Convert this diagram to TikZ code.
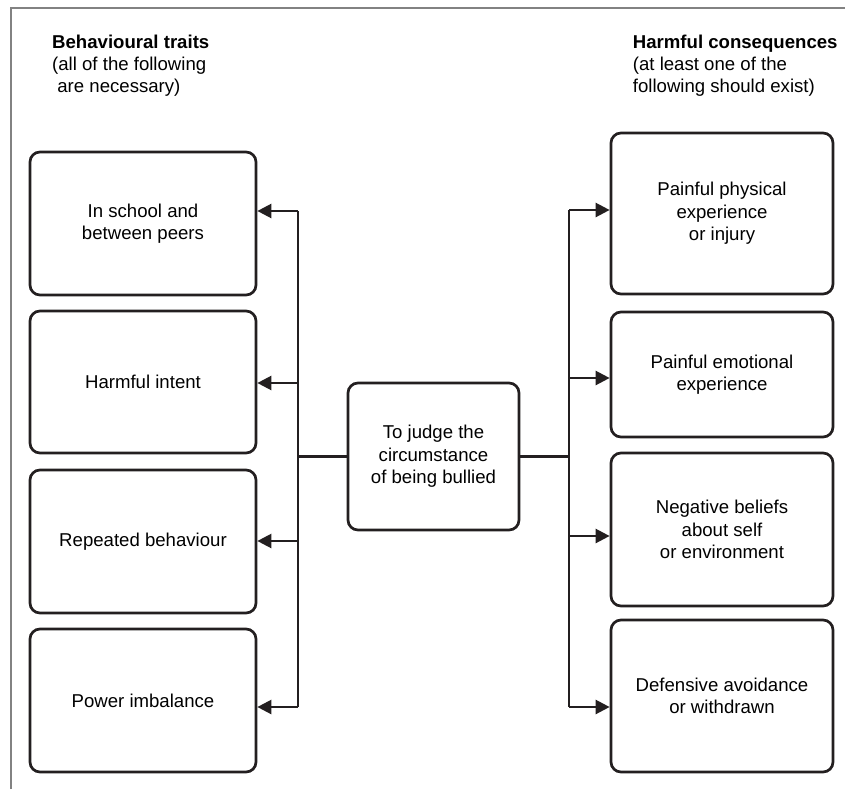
\documentclass[tikz,border=0pt]{standalone}
\usepackage{fontspec}
\setmainfont{Liberation Sans}
\usetikzlibrary{arrows.meta}
\definecolor{dark}{RGB}{35,31,32}
\definecolor{framegray}{RGB}{130,130,130}
\newcommand\dgtxt{\fontsize{18.6}{22.4}\selectfont}
\begin{document}
\begin{tikzpicture}[x=1pt,y=-1pt,
  box/.style={draw=dark, line width=2.7pt, rounded corners=10pt, align=center, font=\dgtxt, inner sep=0pt, text=black},
  conn/.style={draw=dark, line width=2.4pt},
  arr/.style={conn, -{Triangle[length=14pt,width=14pt]}},
  titletext/.style={align=left, font=\dgtxt, inner sep=0pt, anchor=north west, text=black},
]
\useasboundingbox (0,0) rectangle (845,789);
% frame
\draw[framegray, line width=1.5pt] (11,789) -- (11,8) -- (845,8);

% titles
\node[titletext] (ltitle) at (52,34.5) {\textbf{Behavioural traits}\\(all of the following\\\hspace*{5.2pt}are necessary)};
\node[titletext] (rtitle) at (632.7,34.5) {\textbf{Harmful consequences}\\(at least one of the\\following should exist)};

% left boxes
\node[box, minimum width=226pt, minimum height=143pt] (L1) at (143,223.5) {In school and\\between peers};
\node[box, minimum width=226pt, minimum height=142pt] (L2) at (143,382) {Harmful intent};
\node[box, minimum width=226pt, minimum height=143pt] (L3) at (143,541.5) {Repeated behaviour};
\node[box, minimum width=226pt, minimum height=143pt] (L4) at (143,700.5) {Power imbalance};

% center box
\node[box, minimum width=171pt, minimum height=147pt] (C) at (433.5,456.5) {To judge the\\circumstance\\of being bullied};

% right boxes
\node[box, minimum width=222pt, minimum height=161pt] (R1) at (722,213.5) {Painful physical\\experience\\or injury};
\node[box, minimum width=222pt, minimum height=125pt] (R2) at (722,374.5) {Painful emotional\\experience};
\node[box, minimum width=222pt, minimum height=153pt] (R3) at (722,529.5) {Negative beliefs\\about self\\or environment};
\node[box, minimum width=222pt, minimum height=152pt] (R4) at (722,696) {Defensive avoidance\\or withdrawn};

% trunk points
\coordinate (a1) at (298,211);
\coordinate (a2) at (298,383);
\coordinate (a3) at (298,541);
\coordinate (a4) at (298,707);
\coordinate (b1) at (569,210);
\coordinate (b2) at (569,378);
\coordinate (b3) at (569,536);
\coordinate (b4) at (569,707);

% connectors
\draw[conn] (a1) -- (a4);
\draw[conn] (b1) -- (b4);
\draw[conn] (C.west) -- (C.west -| a1);
\draw[conn] (C.east) -- (C.east -| b1);

\draw[arr] (a1) -- (a1 -| L1.east);
\draw[arr] (a2) -- (a2 -| L2.east);
\draw[arr] (a3) -- (a3 -| L3.east);
\draw[arr] (a4) -- (a4 -| L4.east);

\draw[arr] (b1) -- (b1 -| R1.west);
\draw[arr] (b2) -- (b2 -| R2.west);
\draw[arr] (b3) -- (b3 -| R3.west);
\draw[arr] (b4) -- (b4 -| R4.west);
\end{tikzpicture}
\end{document}
